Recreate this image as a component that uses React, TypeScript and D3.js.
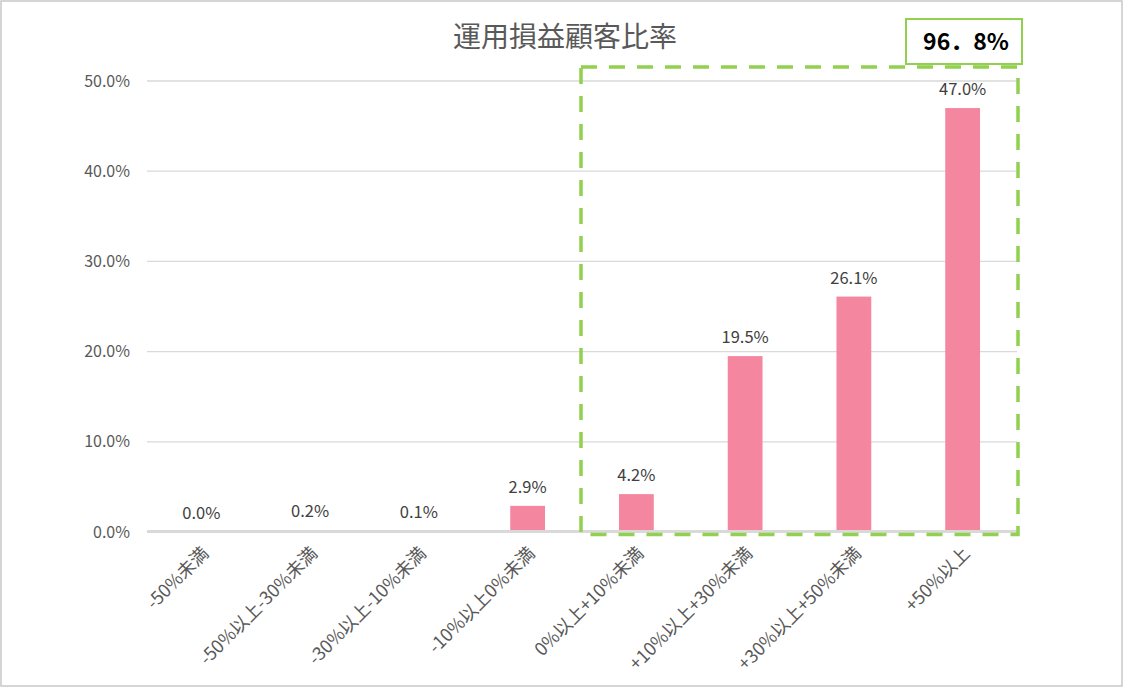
import React from 'react';
import * as d3 from 'd3';

const categories = [
  '-50%未満',
  '-50%以上-30%未満',
  '-30%以上-10%未満',
  '-10%以上0%未満',
  '0%以上+10%未満',
  '+10%以上+30%未満',
  '+30%以上+50%未満',
  '+50%以上',
];
const values = [0.0, 0.2, 0.1, 2.9, 4.2, 19.5, 26.1, 47.0];
const yTicks = [0, 10, 20, 30, 40, 50];
const title = '運用損益顧客比率';
const totalLabel = '96．8%';

const W = 1127;
const H = 688;
const margin = { top: 81, right: 110, bottom: 156, left: 147 };
const font = '"Noto Sans CJK JP", "Noto Sans", sans-serif';

export default function App() {
  const x = d3
    .scaleBand<string>()
    .domain(categories)
    .range([margin.left, W - margin.right])
    .paddingInner(0.68)
    .paddingOuter(0.34);
  const y = d3.scaleLinear().domain([0, 50]).range([H - margin.bottom, margin.top]);

  // highlighted group: from the 5th category on
  const step = x.step();
  const boxLeft = (x('0%以上+10%未満') as number) + x.bandwidth() / 2 - step / 2 - 1;
  const boxRight = W - margin.right + 1;
  const boxTop = y(50) - 14;
  const boxBottom = y(0) + 2.5;

  return (
    <div style={{ position: 'fixed', left: 0, top: 0 }}>
      <svg width={W} height={H} style={{ display: 'block', background: '#fff' }}>
        <rect x={1} y={1} width={W - 6} height={H - 3} fill="#fff" stroke="#c8c8c8" strokeWidth={1.5} />

        <text x={565} y={47} textAnchor="middle" fontFamily={font} fontSize={28} fill="#595959">
          {title}
        </text>

        {/* grid */}
        {yTicks.map(t => (
          <line key={t} x1={margin.left} x2={W - margin.right} y1={y(t)} y2={y(t)} stroke="#d9d9d9" strokeWidth={1.3} />
        ))}

        {/* bars */}
        {categories.map((c, i) => (
          <rect key={c} x={x(c) as number} y={y(values[i])} width={x.bandwidth()} height={y(0) - y(values[i])} fill="#f4879f" />
        ))}
        <line x1={margin.left} x2={W - margin.right} y1={y(0) - 0.5} y2={y(0) - 0.5} stroke="#d9d9d9" strokeWidth={3} />

        {/* y ticks */}
        {yTicks.map(t => (
          <text key={t} x={130} y={y(t)} dy="0.35em" textAnchor="end" fontFamily={font} fontSize={16} fill="#595959">
            {t.toFixed(1)}%
          </text>
        ))}

        {/* value labels */}
        {categories.map((c, i) => (
          <text
            key={c}
            x={(x(c) as number) + x.bandwidth() / 2}
            y={y(values[i]) - 13}
            textAnchor="middle"
            fontFamily={font}
            fontSize={16.5}
            fill="#404040"
          >
            {values[i].toFixed(1)}%
          </text>
        ))}

        {/* category labels */}
        {categories.map(c => {
          const cx = (x(c) as number) + x.bandwidth() / 2 + 4;
          const cy = y(0) + 18;
          return (
            <text
              key={c}
              transform={`translate(${cx},${cy}) rotate(-45)`}
              textAnchor="end"
              dy="0.35em"
              fontFamily={font}
              fontSize={18}
              fill="#595959"
            >
              {c}
            </text>
          );
        })}

        {/* dashed highlight */}
        <rect
          x={boxLeft}
          y={boxTop}
          width={boxRight - boxLeft}
          height={boxBottom - boxTop}
          fill="none"
          stroke="#92d050"
          strokeWidth={3.5}
          strokeDasharray="16 12"
        />

        {/* total box */}
        <rect x={906} y={19} width={116} height={45} fill="#fff" stroke="#92d050" strokeWidth={2} />
        <text x={966} y={42} dy="0.36em" textAnchor="middle" fontFamily={font} fontWeight="bold" fontSize={23} fill="#000">
          {totalLabel}
        </text>
      </svg>
    </div>
  );
}
